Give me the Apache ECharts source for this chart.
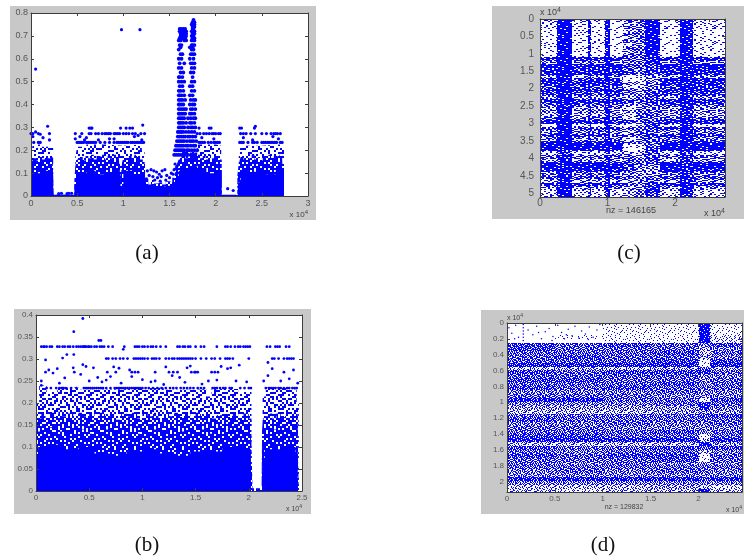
<!DOCTYPE html>
<html><head><meta charset="utf-8">
<script src="https://cdn.jsdelivr.net/npm/echarts@6/dist/echarts.min.js"></script>
<style>html,body{margin:0;padding:0;background:#fff}#c{width:744px;height:560px;filter:blur(.45px)}</style>
</head><body><div id="c"></div>
<script>
// ---------- panel (a) ----------
const aTicksX=[0,0.5,1,1.5,2,2.5,3];
const aTicksY=[0,0.1,0.2,0.3,0.4,0.5,0.6,0.7,0.8];
const aTop=[[0,.19],[.02,.225],[.1,.215],[.2,.22],[.24,0],[.48,.17],[.5,.215],[.6,.225],[.8,.22],[1.0,.225],[1.2,.2],[1.23,0],[1.6,.2],[1.8,.225],[2.0,.22],[2.06,0],[2.25,.17],[2.27,.22],[2.5,.225],[2.7,.21],[2.74,0]];
const aMid=[[0,.12],[.01,.15],[.03,.165],[.06,.155],[.09,.17],[.12,.16],[.15,.175],[.18,.165],[.21,.17],[.235,.15],[.245,.006],[.47,.07],[.48,.13],[.5,.16],[.53,.17],[.56,.155],[.59,.175],[.62,.165],[.65,.18],[.68,.16],[.71,.175],[.74,.17],[.77,.18],[.8,.16],[.83,.175],[.86,.165],[.89,.18],[.92,.17],[.95,.175],[.97,.07],[.985,.14],[1.0,.17],[1.03,.16],[1.06,.175],[1.09,.165],[1.12,.18],[1.15,.17],[1.18,.16],[1.21,.14],[1.235,.075],[1.27,.05],[1.3,.07],[1.33,.055],[1.37,.06],[1.42,.05],[1.46,.065],[1.5,.06],[1.53,.08],[1.56,.1],[1.58,.14],[1.6,.16],[1.63,.18],[1.67,.165],[1.7,.19],[1.74,.175],[1.77,.19],[1.8,.18],[1.83,.165],[1.86,.175],[1.89,.16],[1.92,.18],[1.95,.165],[1.98,.17],[2.01,.175],[2.04,.16],[2.065,.005],[2.235,.09],[2.25,.14],[2.27,.17],[2.3,.16],[2.33,.175],[2.36,.165],[2.39,.18],[2.42,.16],[2.45,.17],[2.48,.155],[2.51,.175],[2.54,.165],[2.57,.18],[2.6,.16],[2.63,.175],[2.66,.17],[2.69,.18],[2.72,.16],[2.74,0]];
const aCore=[[0,.07],[.02,.1],[.1,.11],[.2,.105],[.24,.005],[.47,.05],[.5,.1],[.6,.11],[.7,.095],[.8,.105],[.97,.03],[1.0,.11],[1.1,.095],[1.2,.09],[1.235,.045],[1.3,.04],[1.4,.045],[1.5,.05],[1.56,.07],[1.6,.11],[1.7,.13],[1.8,.12],[1.9,.1],[2.0,.11],[2.065,.004],[2.24,.06],[2.27,.105],[2.4,.11],[2.55,.095],[2.65,.11],[2.74,0]];
const aOutliers=[[.05,.555],[.98,.727],[1.18,.727],[.18,.305],[1.21,.31],[2.43,.305],[.02,.26],[.05,.28],[.1,.27],[.13,.255],[2.13,.032],[2.19,.024],[.33,.012],[.41,.012],[.44,.012],[.3,.01],[.39,.01],[.48,.25],[.53,.26],[.6,.255],[.9,.25],[1.12,.26],[1.16,.265],[1.2,.245],[1.85,.255],[1.98,.25],[2.3,.255],[2.4,.245],[2.68,.25],[.58,.245],[.73,.245],[.85,.25],[2.62,.26],[.2,.245]];
const aLevels=[.297,.273,.234];
const aRowX=[
[.63,.65,.66,.97,1.03,1.07,1.1,1.82,1.93,1.95,2.26,2.28,2.42],
[.0,.02,.08,.2,.48,.55,.63,.65,.7,.73,.77,.8,.82,.84,.86,.9,.92,.94,.96,1.0,1.03,1.06,1.1,1.13,1.19,1.23,1.8,1.83,1.87,1.9,1.93,1.96,1.98,2.0,2.03,2.05,2.27,2.3,2.33,2.38,2.43,2.5,2.55,2.6,2.63,2.65,2.67,2.7],
[.03,.08,.1,.5,.52,.54,.55,.57,.6,.62,.64,.66,.68,.7,.75,.8,.85,.9,.93,.95,.97,.99,1.01,1.03,1.05,1.08,1.1,1.12,1.14,1.16,1.18,1.2,1.22,1.82,1.84,1.86,1.88,1.92,1.95,1.98,2.0,2.02,2.04,2.26,2.28,2.3,2.35,2.4,2.42,2.45,2.5,2.52,2.54,2.56,2.58,2.6,2.62,2.64,2.66,2.7,2.72]
];
const aSpikeLevels=[.77,.76,.75,.74,.73,.72,.71,.7,.69,.68,.66,.65,.64,.62,.6,.58,.56,.54,.52,.5,.48,.46,.44,.42,.4,.38,.36,.34,.32,.3,.28,.26,.24,.22,.2,.18];
const aSpikeX=[
[1.76],[1.75,1.76,1.77],[1.74,1.75,1.76,1.77],[1.75,1.76,1.77],
[1.61,1.63,1.65,1.67,1.75,1.76],[1.61,1.62,1.64,1.65,1.66,1.67,1.68,1.74,1.76,1.77],[1.62,1.63,1.65,1.66,1.67,1.68,1.75,1.77],[1.62,1.64,1.65,1.66,1.67,1.68,1.74,1.76],[1.61,1.63,1.65,1.67,1.75,1.77],[1.6,1.62,1.66,1.68,1.74,1.76,1.77],
[1.61,1.63,1.74,1.75,1.77],[1.62,1.72,1.75],[1.6,1.74,1.76],[1.62,1.64,1.73,1.75,1.77],[1.6,1.63,1.72,1.76],[1.61,1.66,1.73,1.75,1.77],[1.6,1.63,1.74,1.77],[1.62,1.65,1.73,1.76],[1.6,1.61,1.64,1.75],[1.6,1.63,1.66,1.74,1.77],[1.61,1.64,1.72,1.75],[1.6,1.62,1.65,1.74,1.77],
[1.6,1.61,1.63,1.66,1.72,1.75],[1.6,1.62,1.64,1.67,1.73,1.76,1.78],[1.6,1.61,1.63,1.65,1.72,1.75,1.77],[1.6,1.62,1.64,1.66,1.68,1.73,1.75,1.78],[1.6,1.61,1.63,1.65,1.67,1.72,1.74,1.77],[1.6,1.62,1.64,1.66,1.7,1.73,1.76,1.78],[1.6,1.61,1.63,1.65,1.68,1.72,1.74,1.77],[1.6,1.62,1.64,1.66,1.7,1.73,1.75,1.78],[1.59,1.6,1.62,1.63,1.65,1.68,1.71,1.74,1.77],[1.59,1.61,1.63,1.65,1.67,1.7,1.72,1.75,1.78],[1.58,1.6,1.62,1.64,1.66,1.69,1.72,1.74,1.76,1.79],[1.57,1.59,1.61,1.63,1.65,1.68,1.7,1.73,1.76,1.78],[1.56,1.58,1.6,1.62,1.64,1.66,1.69,1.71,1.74,1.77,1.8],[1.55,1.57,1.59,1.61,1.63,1.65,1.67,1.7,1.73,1.75,1.78]
];
const aMidPoints=[[1.26,.11],[1.3,.115],[1.33,.11],[1.36,.105],[1.39,.095],[1.42,.11],[1.45,.115],[1.28,.09],[1.32,.085],[1.37,.08],[1.41,.085],[1.47,.09],[1.52,.1],[1.55,.115],[1.57,.12],[1.25,.075],[1.34,.07],[1.4,.065],[1.46,.07],[1.5,.08],[1.54,.095],[1.58,.13],[1.56,.14]];
// ---------- panel (b) ----------
const bTicksX=[0,0.5,1,1.5,2,2.5];
const bTicksY=[0,0.05,0.1,0.15,0.2,0.25,0.3,0.35,0.4];
const bTop=[[0,.2],[.03,.24],[.1,.225],[.2,.235],[.4,.23],[.6,.232],[.9,.235],[1.2,.23],[1.5,.232],[1.6,.215],[1.65,.232],[1.9,.225],[2.025,0],[2.13,.215],[2.16,.235],[2.35,.23],[2.45,.2],[2.47,0]];
const bMid=[[0,.13],[.01,.165],[.05,.175],[.09,.165],[.13,.178],[.17,.168],[.21,.18],[.25,.17],[.3,.176],[.35,.165],[.4,.178],[.45,.17],[.5,.175],[.55,.165],[.6,.178],[.65,.17],[.7,.175],[.75,.162],[.8,.176],[.85,.17],[.9,.178],[.95,.165],[1.0,.175],[1.05,.17],[1.1,.178],[1.15,.165],[1.2,.175],[1.25,.17],[1.3,.178],[1.35,.168],[1.4,.175],[1.45,.165],[1.5,.178],[1.55,.17],[1.6,.175],[1.65,.165],[1.7,.172],[1.75,.176],[1.8,.168],[1.85,.175],[1.9,.17],[1.95,.176],[2.0,.165],[2.025,.1],[2.035,.006],[2.12,0],[2.125,.14],[2.14,.17],[2.18,.176],[2.22,.165],[2.26,.176],[2.3,.168],[2.34,.175],[2.38,.17],[2.42,.176],[2.46,.1],[2.47,0]];
const bDeep=[[0,.1],[.02,.135],[.1,.145],[.2,.135],[.3,.14],[.45,.13],[.6,.14],[.8,.13],[1.0,.14],[1.2,.135],[1.4,.14],[1.6,.13],[1.8,.14],[2.0,.135],[2.02,.0],[2.125,.11],[2.15,.14],[2.3,.135],[2.44,.13],[2.46,.0]];
const bCore=[[0,.07],[.02,.1],[.1,.105],[.25,.095],[.4,.1],[.55,.085],[.7,.08],[.85,.09],[1.0,.095],[1.15,.085],[1.3,.08],[1.45,.09],[1.6,.09],[1.75,.1],[1.9,.095],[2.02,.0],[2.125,.07],[2.15,.095],[2.3,.1],[2.44,.08],[2.46,0]];
const bOutliers=[[.44,.392],[.355,.362],[.59,.342],[.61,.342],[.82,.322],[.83,.328],[.29,.31],[.355,.31],[.25,.302],[.09,.298],[2.18,.292],
[.35,.28],[.44,.287],[.47,.283],[.54,.28],[.2,.278],[.12,.275],[.16,.268],[.42,.265],[.58,.258],[.7,.26],[.73,.282],[.78,.279],[.88,.275],[1.0,.253],[1.08,.248],[1.22,.282],[1.28,.262],[1.42,.28],[1.45,.284],[1.5,.27],[1.74,.283],[1.8,.278],[1.83,.28],[1.91,.286],[2.22,.278],[2.42,.275],[2.18,.262],[.05,.25],[.27,.257],[.5,.25],[.62,.248],[.9,.26],[1.12,.25],[1.35,.258],[1.62,.25],[1.98,.248],[2.3,.25],[2.46,.245],[.05,.24],[.22,.245],[.66,.252],[.8,.245],[1.2,.242],[1.4,.247],[1.56,.243],[1.7,.252],[1.88,.25],[2.14,.25],[2.38,.255]];
const bLevels=[.328,.301,.27,.234];
const bRowX=[
[.05,.07,.08,.1,.13,.15,.2,.22,.25,.27,.3,.32,.35,.38,.4,.42,.44,.45,.46,.47,.49,.5,.52,.55,.57,.6,.62,.64,.68,.72,.93,.95,.97,1.0,1.02,1.05,1.08,1.1,1.13,1.17,1.22,1.33,1.35,1.38,1.4,1.43,1.45,1.5,1.55,1.58,1.7,1.78,1.8,1.83,1.87,1.9,1.92,1.95,1.97,1.99,2.01,2.17,2.2,2.25,2.27,2.29,2.35,2.38],
[.66,.68,.72,.75,.79,.82,.86,.92,.94,.96,.98,1.0,1.02,1.05,1.09,1.11,1.13,1.16,1.22,1.25,1.28,1.3,1.33,1.35,1.37,1.39,1.41,1.43,1.45,1.47,1.5,1.55,1.6,1.65,1.68,1.73,1.78,1.8,1.82,1.85,2.0,2.22,2.24,2.28,2.33,2.36,2.38,2.4,2.42],
[.09,.36,.67,.75,.9,.93,.96,1.12,1.25,1.29,1.33,1.46,1.49,1.52,1.65,1.68,1.71,2.33],
[.1,.14,.19,.22,.24,.25,.26,.28,.33,.38,.45,.47,.49,.51,.53,.55,.57,.59,.61,.63,.66,.7,.74,.76,.78,.8,.82,.84,.86,.88,.9,.92,.94,.96,.98,1.0,1.03,1.06,1.1,1.14,1.18,1.22,1.26,1.29,1.32,1.36,1.39,1.42,1.45,1.48,1.52,1.55,1.58,1.66,1.68,1.7,1.73,1.76,1.78,1.82,1.84,1.92,1.96,2.0,2.02,2.16,2.19,2.21,2.23,2.25,2.28,2.3,2.33,2.36,2.38,2.41,2.43,2.45]
];
// ---------- panel (c) ----------
const cTicksX=[0,0.5,1,1.5,2,2.5];
const cLabelsX=[0,1,2];
const cTicksY=[0,0.5,1,1.5,2,2.5,3,3.5,4,4.5,5];
const cEdgesX=[0,.25,.47,.71,.76,.96,1.03,1.225,1.42,1.555,1.78,2.07,2.27,2.74];
const cRowStep=0.1;
const cRows=["3939292669292","2929181369192","2928191659292","1929181359191","1928191759191","1919182369191","1928291669192","2919191359191","1929181769192","1918191459191","1918182668191",
"8989898668898","4948484568494","9989899767989","7979797657798","8989898767898","4838484124484","8978897125898","8889898535888","6968686235697","8989898656898","7878687547787","4948484357394","8989898767898","6868686456786","4948484265494","5948594556585","3837384267383","6958696265696","9989897767898","1927182147281","7978797667897","4957584366495","7978796667897","5948485266595","9989898656898","9999999126999","9899898027999","2725263336272","6867686646686","4846484657384","9999998766989","9899999654989","8989898754988","5858585444585","7978797646797","3836383356384","8989898657898","4847484458494","2927282358292","3928282457282"];
// ---------- panel (d) ----------
const dTicksX=[0,0.5,1,1.5,2];
const dTicksY=[0,0.2,0.4,0.6,0.8,1,1.2,1.4,1.6,1.8,2];
const dEdgesX=[0,.5,1,1.5,2.005,2.12,2.456];
const dRowStep=0.05;
const dRows=["001191","001191","001191","011192","001192","767657","766635","666736","676645","666717","888818","343464","767786","666655","776656","666756","767666","555655","666555","886617","555686","444485","333454","666677","766666","556556","665555","666756","776616","888838","333394","766767","656635","767716","666716","656555","666666","565665","555555","888878","555555","333432","323393"];
const dSparse=[[.02,.06],[.05,.13],[.09,.03],[.12,.18],[.17,.02],[.17,.06],[.17,.1],[.17,.14],[.17,.18],[.17,.22],[.22,.09],[.27,.15],[.31,.04],[.36,.2],[.4,.11],[.44,.07],[.48,.17],[.53,.03],[.57,.12],[.6,.2],[.64,.08],[.68,.16],[.71,.04],[.75,.19],[.78,.1],[.82,.14],[.86,.05],[.9,.18],[.94,.09],[.97,.02],[.47,.22],[.85,.21],[.33,.12],[.08,.2],[.62,.15]];
// -----------------------------------
const BLUE='#0000ff', GREY='#565656';
const TILE=["730518264907351862490357","182946037154928067315482","564072819360471925806139","209738154682035749162870","841560392071869203547216","375129684513720869431058","690247513986145037282964","128935706240693518074325","456018392751280946513790","937264085169437205868142","210853679024516873291605","685497120738092461537028","043712968515860394720186","879326041692473150968453","315084729360218657403291","762951830847596023185674"];
function pattern(level,cx,cy){
  const cv=document.createElement('canvas');cv.width=24*cx;cv.height=16*cy;
  const g=cv.getContext('2d');g.fillStyle='#fff';g.fillRect(0,0,cv.width,cv.height);g.fillStyle=BLUE;
  TILE.forEach((r,y)=>{for(let x=0;x<24;x++){if(+r[x]<level)g.fillRect(x*cx,y*cy,cx,cy);}});
  return {image:cv,repeat:'repeat'};
}
const patC=[],patD=[];for(let i=0;i<=9;i++){patC.push(pattern(i,2,1));patD.push(pattern(i,1,1));}
function rowsToCells(rows,edges,step){
  const out=[];rows.forEach((r,i)=>{for(let j=0;j<edges.length-1;j++)out.push([edges[j],edges[j+1],i*step,(i+1)*step,+r[j]]);});return out;
}
function flat(levels,xs){const o=[];levels.forEach((y,i)=>xs[i].forEach(x=>o.push([x,y])));return o;}
const fmt=v=>String(v);
function axes(gi,o){
  const base=(pos,min,max,ticks,labels,fs,inv,m)=>({type:'value',gridIndex:gi,position:pos,min,max,inverse:!!inv,splitLine:{show:false},
    axisLine:{onZero:false,show:true,lineStyle:{color:'#3c3c3c',width:1}},
    axisTick:{show:true,inside:true,length:3,lineStyle:{color:'#3c3c3c'},customValues:ticks},
    axisLabel:{show:true,margin:m,fontSize:fs,color:GREY,fontFamily:'Liberation Sans',customValues:labels,formatter:fmt,hideOverlap:false},z:10});
  const x0=base('bottom',0,o.xmax,o.tx,o.lx||o.tx,o.fs,false,o.mx||3);
  const y0=base('left',0,o.ymax,o.ty,o.ty,o.fs,o.inv,o.my||3);
  const x1=base('top',0,o.xmax,o.tx,o.tx,o.fs,false,3);x1.axisLabel={show:false};
  const y1=base('right',0,o.ymax,o.ty,o.ty,o.fs,o.inv,3);y1.axisLabel={show:false};
  return {x:[x0,x1],y:[y0,y1]};
}
const grids=[{left:31,top:13,width:277,height:183},{left:36,top:315,width:266,height:176},{left:540,top:19,width:185,height:178},{left:507,top:323,width:235,height:169}].map(g=>Object.assign(g,{show:true,backgroundColor:'#fff',borderWidth:0,containLabel:false}));
const spec=[
 axes(0,{xmax:3,ymax:.8,tx:aTicksX,ty:aTicksY,fs:9}),
 axes(1,{xmax:2.5,ymax:.4,tx:bTicksX,ty:bTicksY,fs:8}),
 axes(2,{xmax:2.74,ymax:5.11,tx:cTicksX,lx:cLabelsX,ty:cTicksY,fs:10,inv:true,mx:1,my:6}),
 axes(3,{xmax:2.456,ymax:2.135,tx:dTicksX,ty:dTicksY,fs:8,inv:true})
];
const xAxis=[],yAxis=[];spec.forEach(s=>{xAxis.push(...s.x);yAxis.push(...s.y);});
const fill=(l)=>l>=10?BLUE:pattern(l,2,2);
function area(gi,data,level){return {type:'line',xAxisIndex:gi*2,yAxisIndex:gi*2,data,step:'end',symbol:'none',silent:true,lineStyle:{width:0},areaStyle:{color:fill(level),opacity:1},z:2};}
function pts(gi,data,size){return {type:'scatter',xAxisIndex:gi*2,yAxisIndex:gi*2,data,symbol:'circle',symbolSize:size,silent:true,itemStyle:{color:BLUE,opacity:1},z:3};}
function cells(gi,data,pats){return {type:'custom',xAxisIndex:gi*2,yAxisIndex:gi*2,data,silent:true,encode:{x:[0,1],y:[2,3]},z:2,
  renderItem(p,api){const a=api.coord([api.value(0),api.value(2)]),b=api.coord([api.value(1),api.value(3)]);
    return {type:'rect',shape:{x:Math.round(a[0]),y:Math.round(a[1]),width:Math.round(b[0])-Math.round(a[0]),height:Math.round(b[1])-Math.round(a[1])},style:{fill:pats[api.value(4)]}};}};}
const series=[
 area(0,aTop,3),area(0,aMid,8),area(0,aCore,10),pts(0,flat(aLevels,aRowX),3.2),pts(0,flat(aSpikeLevels,aSpikeX),3.8),pts(0,aOutliers,3.2),pts(0,aMidPoints,3.2),
 area(1,bTop,4),area(1,bMid,7),area(1,bDeep,8),area(1,bCore,10),pts(1,flat(bLevels,bRowX),2.8),pts(1,bOutliers,2.8),
 cells(2,rowsToCells(cRows,cEdgesX,cRowStep),patC),
 cells(3,rowsToCells(dRows,dEdgesX,dRowStep),patD),pts(3,dSparse,1.5)
];
const bg=[[10,6,306,214],[14,309,297,205],[492,6,252,213],[481,310,263,204]].map(r=>({type:'rect',z:-10,silent:true,shape:{x:r[0],y:r[1],width:r[2],height:r[3]},style:{fill:'#c8c8c8'}}));
const txt=(x,y,text,fs,align)=>({type:'text',z:20,silent:true,x,y,style:{text,fontSize:fs,fontFamily:'Liberation Sans',fill:'#444',align:align||'left',verticalAlign:'middle',rich:{s:{fontSize:fs-2,fill:'#444',padding:[0,0,fs*.6,0]}}}});
const cap=(x,y,text)=>({type:'text',z:20,silent:true,x,y,style:{text,fontSize:21,fontFamily:'Liberation Serif',fill:'#111',align:'center',verticalAlign:'middle'}});
const labels=[
 txt(308,215,'x 10{s|4}',8,'right'),txt(302,509,'x 10{s|4}',7,'right'),
 txt(540,13,'x 10{s|4}',9),txt(725,214,'x 10{s|4}',9,'right'),
 txt(507,318,'x 10{s|4}',7),txt(742,510,'x 10{s|4}',7,'right'),
 txt(631,211,'nz = 146165',9,'center'),txt(624,507,'nz = 129832',7,'center'),
 cap(147,253,'(a)'),cap(147,545,'(b)'),cap(629,253,'(c)'),cap(603,545,'(d)')
];
const chart=echarts.init(document.getElementById('c'),null,{renderer:'canvas',width:744,height:560});
chart.setOption({animation:false,backgroundColor:'#fff',grid:grids,xAxis,yAxis,series,graphic:{elements:bg.concat(labels)}});
</script></body></html>
